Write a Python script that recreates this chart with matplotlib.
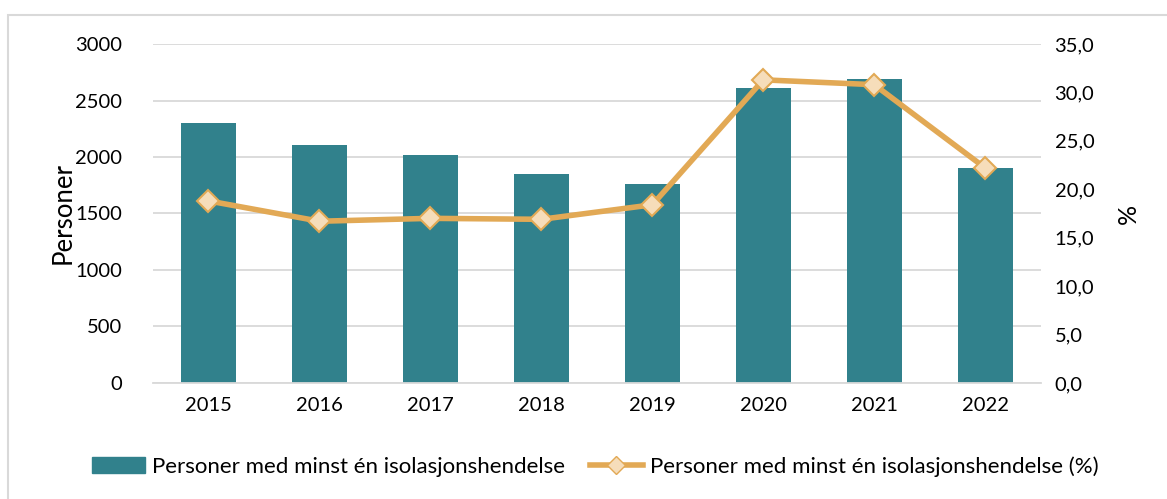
import matplotlib.pyplot as plt
from matplotlib.lines import Line2D
from matplotlib.patches import Patch, Rectangle

# Data
years = ['2015', '2016', '2017', '2018', '2019', '2020', '2021', '2022']
persons = [2300, 2105, 2020, 1850, 1760, 2610, 2690, 1905]
percent = [18.8, 16.7, 17.0, 16.9, 18.4, 31.3, 30.8, 22.2]

bar_color = '#31818C'
line_color = '#E2A955'
marker_fill = '#F6DDBA'

plt.rcParams['font.family'] = ['Lato', 'DejaVu Sans']

fig = plt.figure(figsize=(11.67, 4.99), dpi=100)
ax = fig.add_axes([0.1311, 0.2325, 0.7607, 0.6793])
ax2 = ax.twinx()

x = range(len(years))
ax.bar(x, persons, width=0.5, color=bar_color, zorder=2)
ax2.plot(x, percent, color=line_color, linewidth=4, marker='D', markersize=11,
         markerfacecolor=marker_fill, markeredgecolor=line_color, markeredgewidth=1.5,
         zorder=3)

ax.set_xlim(-0.5, len(years) - 0.5)
ax.set_ylim(0, 3000)
ax.set_yticks(range(0, 3001, 500))
ax2.set_ylim(0, 35)
ax2.set_yticks([i * 5 for i in range(8)])
ax2.set_yticklabels([f'{v:.1f}'.replace('.', ',') for v in range(0, 36, 5)])

ax.set_xticks(list(x))
ax.set_xticklabels(years)
ax.grid(axis='y', color='#D9D9D9', linewidth=1.3, zorder=0)
ax.set_axisbelow(True)

for a in (ax, ax2):
    for s in a.spines.values():
        s.set_visible(False)
    a.tick_params(length=0, labelsize=14.5, colors='black')
ax.spines['bottom'].set_visible(True)
ax.spines['bottom'].set_color('#D9D9D9')
ax.spines['bottom'].set_linewidth(1.3)
ax.tick_params(axis='y', pad=22)
ax.tick_params(axis='x', pad=10)
ax2.tick_params(axis='y', pad=10)

ax.set_ylabel('Personer', fontsize=18.5, labelpad=0)
ax2.set_ylabel('%', fontsize=18, labelpad=16)

handles = [Patch(color=bar_color),
           Line2D([0], [0], color=line_color, linewidth=4, marker='D', markersize=9,
                  markerfacecolor=marker_fill, markeredgecolor=line_color)]
labels = ['Personer med minst én isolasjonshendelse',
          'Personer med minst én isolasjonshendelse (%)']
fig.legend(handles, labels, loc='center', bbox_to_anchor=(0.51, 0.065), ncol=2,
           frameon=False, fontsize=16, handlelength=2.4, handletextpad=0.3,
           columnspacing=1.1)

# outer chart border
fig.patches.append(Rectangle((8 / 1167, -0.1), 1.2, 1.1 - 15 / 499,
                             transform=fig.transFigure, fill=False,
                             edgecolor='#D9D9D9', linewidth=1.5))

fig.savefig('out.png', dpi=100)
